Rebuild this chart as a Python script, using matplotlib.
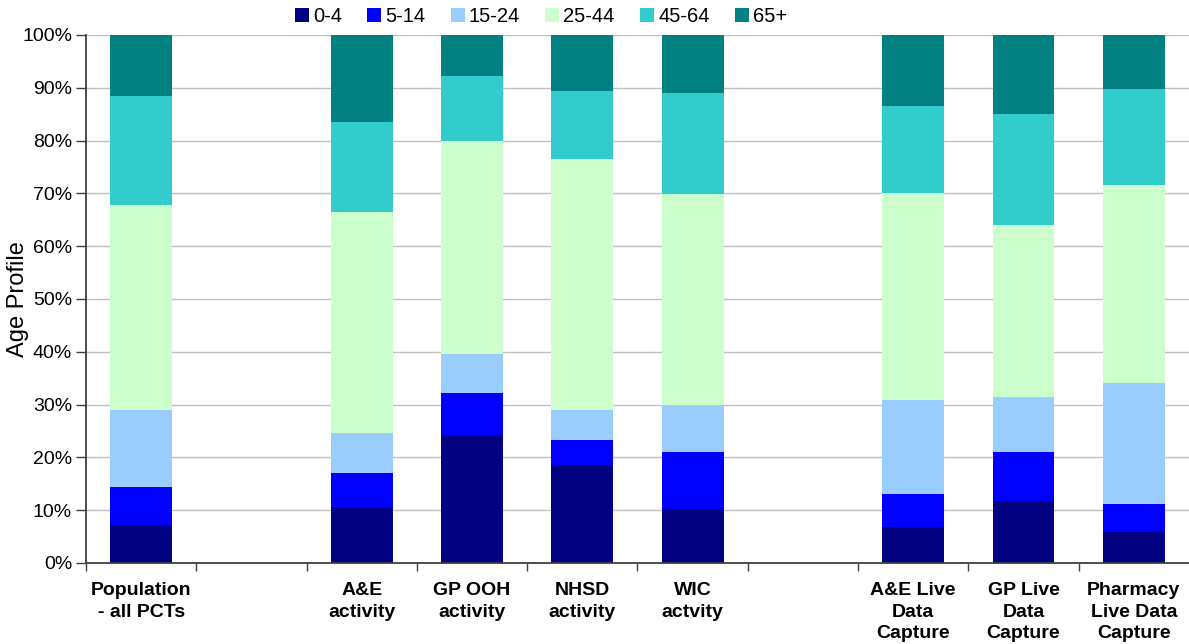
import numpy as np
import matplotlib
matplotlib.use("Agg")
import matplotlib.pyplot as plt
from matplotlib.ticker import FuncFormatter, MultipleLocator

plt.rcParams['font.family'] = ['Liberation Sans', 'DejaVu Sans']

# Category slots (empty strings are spacer slots with no bar)
categories = [
    "Population\n- all PCTs", "", "A&E\nactivity", "GP OOH\nactivity",
    "NHSD\nactivity", "WIC\nactvity", "", "A&E Live\nData\nCapture",
    "GP Live\nData\nCapture", "Pharmacy\nLive Data\nCapture",
]
age_bands = ["0-4", "5-14", "15-24", "25-44", "45-64", "65+"]

# Share of each age band (%) per category, spacer slots are NaN
nan = np.nan
age_0_4   = [7.2, nan, 10.6, 24.2, 18.6, 10.2, nan, 6.8, 11.7, 5.9]
age_5_14  = [7.2, nan, 6.4, 8.0, 4.7, 10.8, nan, 6.3, 9.3, 5.3]
age_15_24 = [14.6, nan, 7.6, 7.4, 5.7, 8.9, nan, 17.8, 10.4, 22.9]
age_25_44 = [38.8, nan, 41.9, 40.3, 47.5, 40.0, nan, 39.2, 32.6, 37.5]
age_45_64 = [20.6, nan, 17.0, 12.3, 12.9, 19.1, nan, 16.5, 21.0, 18.2]
age_65    = [11.6, nan, 16.5, 7.8, 10.6, 11.0, nan, 13.4, 15.0, 10.2]

series = [age_0_4, age_5_14, age_15_24, age_25_44, age_45_64, age_65]
colors = ["#000080", "#0000FF", "#99CCFF", "#CCFFCC", "#33CCCC", "#008080"]

fig = plt.figure(figsize=(11.89, 6.44), dpi=100)
ax = fig.add_axes([0.0723, 0.1258, 0.9277, 0.8199])

x = np.arange(len(categories))
bottom = np.zeros(len(categories))
handles = []
for vals, col, lab in zip(series, colors, age_bands):
    v = np.array(vals, dtype=float)
    b = ax.bar(x, v, width=0.56, bottom=bottom, color=col, label=lab,
               zorder=3, linewidth=0)
    handles.append(b)
    bottom = bottom + np.nan_to_num(v)

ax.set_xlim(-0.5, len(categories) - 0.5)
ax.set_ylim(0, 100)

ax.yaxis.set_major_locator(MultipleLocator(10))
ax.yaxis.set_major_formatter(FuncFormatter(lambda v, p: f"{int(round(v))}%"))
ax.grid(axis="y", color="#c0c0c0", linewidth=1.0, zorder=0)
ax.tick_params(axis="y", direction="out", length=7, width=1, color="#404040",
               labelsize=14, pad=3)

# tick marks on slot boundaries, labels centred under slots
ax.set_xticks(np.arange(len(categories)) - 0.5)
ax.set_xticklabels([])
ax.set_xticks(x, minor=True)
ax.set_xticklabels(categories, minor=True, fontsize=14, fontweight="bold",
                   linespacing=1.32, va="top")
ax.tick_params(axis="x", which="major", direction="out", length=6, width=1,
               color="#404040")
ax.tick_params(axis="x", which="minor", length=0, pad=14)

for side in ("top", "right"):
    ax.spines[side].set_visible(False)
for side in ("left", "bottom"):
    ax.spines[side].set_color("#404040")
    ax.spines[side].set_linewidth(1.3)
    ax.spines[side].set_zorder(4)

ax.set_ylabel("Age Profile", fontsize=17)
ax.yaxis.set_label_coords(-0.052, 0.5)

fig.legend(handles=handles, labels=age_bands, loc="center", ncol=6,
           bbox_to_anchor=(0.455, 0.975), frameon=False, fontsize=14.5,
           handlelength=0.7, handleheight=0.7, handletextpad=0.2,
           columnspacing=1.25)

fig.savefig("out.png", dpi=100)
